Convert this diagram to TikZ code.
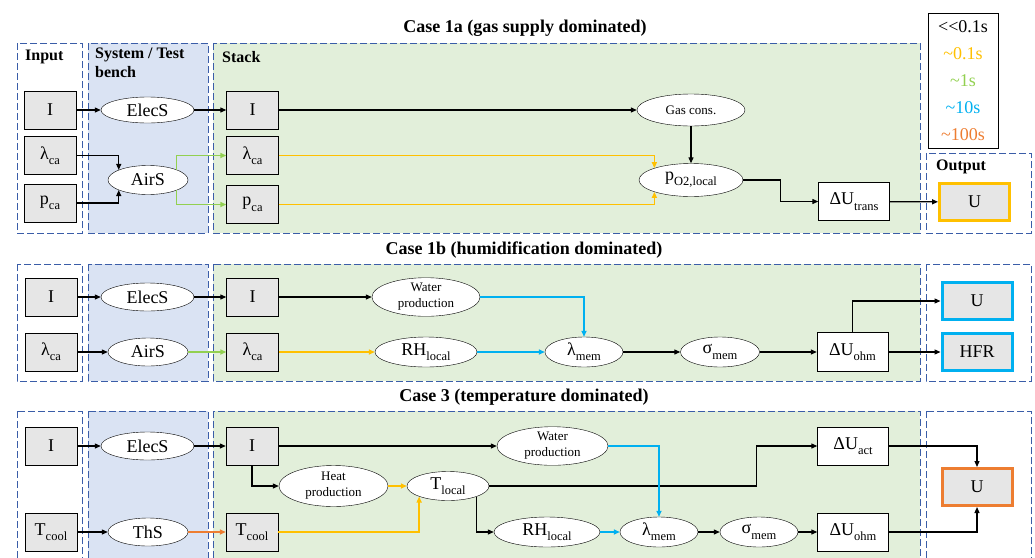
\documentclass[tikz,border=0pt]{standalone}
\usepackage{fontspec}
\setmainfont{Liberation Serif}
\usetikzlibrary{shapes.geometric,arrows.meta}

\definecolor{zoneblue}{HTML}{3A5DA8}
\definecolor{sysfill}{HTML}{DAE3F3}
\definecolor{stackfill}{HTML}{E2EFDA}
\definecolor{boxgray}{HTML}{E6E6E6}
\definecolor{cyel}{HTML}{FFC000}
\definecolor{cgrn}{HTML}{92D050}
\definecolor{cblu}{HTML}{00B0F0}
\definecolor{corg}{HTML}{ED7D31}

\newcommand{\bigtxt}{\fontsize{18}{20}\selectfont}
\newcommand{\smalltxt}{\fontsize{13}{16}\selectfont}
\newcommand{\lowtxt}[1]{\raisebox{-0.3em}{\fontsize{12.5}{12.5}\selectfont #1}}

\begin{document}
\begin{tikzpicture}[x=1pt,y=-1pt,
  >={Triangle[length=6pt,width=5pt]},
  zone/.style={draw=zoneblue,line width=1pt,dash pattern=on 7pt off 3pt},
  gbox/.style={draw,fill=boxgray,inner sep=0pt,minimum width=52pt,minimum height=38pt,font=\bigtxt},
  wbox/.style={gbox,fill=white,minimum width=71pt},
  obox/.style={gbox,line width=3pt,minimum width=70pt,minimum height=37pt},
  oval/.style={ellipse,draw,fill=white,inner sep=0pt,font=\bigtxt},
  soval/.style={oval,font=\smalltxt,align=center},
  head/.style={font=\fontsize{16}{19}\selectfont\bfseries,anchor=west,inner sep=0pt,align=left},
  title/.style={font=\fontsize{18}{20}\selectfont\bfseries,inner sep=0pt},
  flowk/.style={->,line width=1.2pt},
  flowy/.style={->,line width=1.5pt,draw=cyel},
  flowg/.style={->,line width=1.5pt,draw=cgrn},
  flowb/.style={->,line width=1.5pt,draw=cblu},
  flowo/.style={->,line width=1.5pt,draw=corg}]
\useasboundingbox (0,0) rectangle (1035,557);

% zones of the three cases
\foreach \ya/\yb/\yo in {43/233/153, 264/381/264, 411/570/411}{
  \draw[zone] (17,\ya) rectangle (82,\yb);
  \draw[zone,fill=sysfill] (88,\ya) rectangle (208,\yb);
  \draw[zone,fill=stackfill] (213,\ya) rectangle (920,\yb);
  \draw[zone] (926,\yo) rectangle (1031,\yb);
}

\node[title] (t1) at (525,28) {Case 1a (gas supply dominated)};
\node[title] (t2) at (524,250) {Case 1b (humidification dominated)};
\node[title] (t3) at (524,397) {Case 3 (temperature dominated)};

\node[head] (hin) at (25,57) {Input};
\node[head,anchor=north west] (hsys) at (95,48) {System / Test\\bench};
\node[head] (hst) at (222,57) {Stack};
\node[head] (hout) at (936,167) {Output};

% legend
\node[draw,line width=0.8pt,minimum width=70pt,minimum height=135pt,inner sep=0pt,
  align=center,font=\fontsize{18}{27}\selectfont] (leg) at (963,80.5)
  {<\kern0pt<0.1s\\\textcolor{cyel}{\textasciitilde0.1s}\\\textcolor{cgrn}{\textasciitilde1s}\\
   \textcolor{cblu}{\textasciitilde10s}\\\textcolor{corg}{\textasciitilde100s}};

% case 1a
\node[gbox] (i1) at (50,110) {I};
\node[gbox] (lca1) at (50,155.5) {λ\lowtxt{ca}};
\node[gbox] (pca1) at (50,203) {p\lowtxt{ca}};
\node[oval,minimum width=93pt,minimum height=26pt] (ecs1) at (147.5,110) {ElecS};
\node[oval,minimum width=80pt,minimum height=29pt] (airs1) at (148,180) {AirS};
\node[gbox] (si1) at (252.5,110) {I};
\node[gbox] (slca1) at (252.5,155.5) {λ\lowtxt{ca}};
\node[gbox] (spca1) at (252.5,204.5) {p\lowtxt{ca}};
\node[soval,minimum width=108pt,minimum height=32pt] (gc1) at (691,110) {Gas cons.};
\node[oval,minimum width=104pt,minimum height=33pt] (po2) at (691,180) {p\lowtxt{O2,local}};
\node[wbox] (dut1) at (854,201.5) {ΔU\lowtxt{trans}};
\node[obox,draw=cyel] (u1) at (974.5,202) {U};

\draw[flowk] (i1) -- (ecs1);
\draw[flowk] (lca1.east) -| (airs1.161);
\draw[flowk] (pca1.east) -| (airs1.199);
\draw[flowk] (ecs1) -- (si1);
\draw[flowg] (airs1.20) |- (slca1.west);
\draw[flowg] (airs1.-20) |- (spca1.west);
\draw[flowk] (si1) -- (gc1);
\draw[flowk] (gc1) -- (po2);
\draw[flowy] (slca1.east) -| (po2.162);
\draw[flowy] (spca1.east) -| (po2.198);
\draw[flowk] (po2.east) -- ++(37,0) |- (dut1.west);
\draw[flowk] (dut1) -- (u1);

% case 1b
\node[gbox] (i2) at (51,297) {I};
\node[gbox] (lca2) at (51,352) {λ\lowtxt{ca}};
\node[oval,minimum width=93pt,minimum height=28pt] (ecs2) at (147.5,297) {ElecS};
\node[oval,minimum width=80pt,minimum height=28pt] (airs2) at (148,352) {AirS};
\node[gbox] (si2) at (252.5,297) {I};
\node[gbox] (slca2) at (252.5,352) {λ\lowtxt{ca}};
\node[soval,minimum width=108pt,minimum height=37pt] (wp2) at (426,297) {Water\\production};
\node[oval,minimum width=102pt,minimum height=30pt] (rh2) at (426,352) {RH\lowtxt{local}};
\node[oval,minimum width=78pt,minimum height=30pt] (lm2) at (584,352) {λ\lowtxt{mem}};
\node[oval,minimum width=79pt,minimum height=30pt] (sm2) at (720,352) {σ\lowtxt{mem}};
\node[wbox,minimum height=39pt] (duo2) at (852.5,352) {ΔU\lowtxt{ohm}};
\node[obox,draw=cblu] (u2) at (977,301) {U};
\node[obox,draw=cblu] (hfr2) at (977,352) {HFR};

\draw[flowk] (i2) -- (ecs2);
\draw[flowk] (lca2) -- (airs2);
\draw[flowk] (ecs2) -- (si2);
\draw[flowg] (airs2) -- (slca2);
\draw[flowk] (si2) -- (wp2);
\draw[flowy] (slca2) -- (rh2);
\draw[flowb] (wp2.east) -| (lm2.north);
\draw[flowb] (rh2) -- (lm2);
\draw[flowk] (lm2) -- (sm2);
\draw[flowk] (sm2) -- (duo2);
\draw[flowk] (duo2.north) |- (u2.west);
\draw[flowk] (duo2) -- (hfr2);

% case 3
\node[gbox] (i3) at (51,446) {I};
\node[gbox] (tc3) at (51,532) {T\lowtxt{cool}};
\node[oval,minimum width=93pt,minimum height=28pt] (ecs3) at (147.5,446) {ElecS};
\node[oval,minimum width=80pt,minimum height=28pt] (ths3) at (148,532) {ThS};
\node[gbox] (si3) at (252,446) {I};
\node[gbox] (stc3) at (252,532) {T\lowtxt{cool}};
\node[soval,minimum width=109pt,minimum height=41pt] (hp3) at (333.5,486) {Heat\\production};
\node[oval,minimum width=82pt,minimum height=29pt] (tl3) at (448,486) {T\lowtxt{local}};
\node[soval,minimum width=111pt,minimum height=37pt] (wp3) at (552.5,446) {Water\\production};
\node[oval,minimum width=106pt,minimum height=30pt] (rh3) at (547,532) {RH\lowtxt{local}};
\node[oval,minimum width=78pt,minimum height=30pt] (lm3) at (659,532) {λ\lowtxt{mem}};
\node[oval,minimum width=78pt,minimum height=30pt] (sm3) at (759,532) {σ\lowtxt{mem}};
\node[wbox] (dua3) at (853,446) {ΔU\lowtxt{act}};
\node[wbox] (duo3) at (853,532) {ΔU\lowtxt{ohm}};
\node[obox,draw=corg] (u3) at (977,487) {U};

\draw[flowk] (i3) -- (ecs3);
\draw[flowk] (tc3) -- (ths3);
\draw[flowk] (ecs3) -- (si3);
\draw[flowo] (ths3) -- (stc3);
\draw[flowk] (si3) -- (wp3);
\draw[flowk] (si3.south) |- (hp3.west);
\draw[flowy] (hp3) -- (tl3);
\draw[flowy] (stc3.east) -| (tl3.200);
\draw[flowk] (tl3.east) -- ++(267,0) |- (dua3.west);
\draw[flowk] (tl3.-20) |- (rh3.west);
\draw[flowb] (wp3.east) -| (lm3.north);
\draw[flowb] (rh3) -- (lm3);
\draw[flowk] (lm3) -- (sm3);
\draw[flowk] (sm3) -- (duo3);
\draw[flowk] (dua3.east) -| (u3.north);
\draw[flowk] (duo3.east) -| (u3.south);
\end{tikzpicture}
\end{document}
